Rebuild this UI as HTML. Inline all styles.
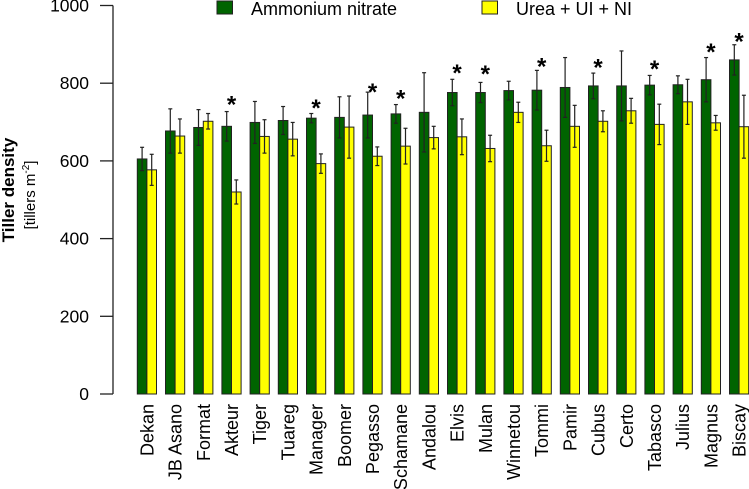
<!DOCTYPE html>
<html><head><meta charset="utf-8"><style>
html,body{margin:0;padding:0;background:#fff;}
svg{display:block;font-family:"Liberation Sans",Arial,sans-serif;}
</style></head><body>
<svg id="chart" width="749" height="489" viewBox="0 0 749 489" xmlns="http://www.w3.org/2000/svg">
<g>
<rect x="217" y="1" width="15.5" height="13" fill="#006400" stroke="#222" stroke-width="1"/>
<text x="251" y="15" font-size="18">Ammonium nitrate</text>
<rect x="482" y="1" width="15.5" height="13" fill="#ffff00" stroke="#222" stroke-width="1"/>
<text x="516" y="15" font-size="18">Urea + UI + NI</text>
</g>
<g>
<text transform="translate(14,190) rotate(-90)" text-anchor="middle" font-size="17" font-weight="bold">Tiller density</text>
<text transform="translate(35,195) rotate(-90)" text-anchor="middle" font-size="15">[tillers m<tspan font-size="10" dy="-6">-2</tspan><tspan dy="6">]</tspan></text>
</g>
<g id="yaxis"></g>
<g id="bars"></g>
<g id="xlabels"></g>
</svg>
<script>
const categories=["Dekan","JB Asano","Format","Akteur","Tiger","Tuareg","Manager","Boomer","Pegasso","Schamane","Andalou","Elvis","Mulan","Winnetou","Tommi","Pamir","Cubus","Certo","Tabasco","Julius","Magnus","Biscay"];
const ammonium=[605,677,686,689,699,704,710,712,718,721,725,776,776,781,782,789,793,793,795,796,809,860];
const ammoniumErr=[30,57,46,38,54,36,12,53,59,24,102,34,26,24,51,77,33,90,25,23,57,39];
const urea=[577,664,702,520,663,656,593,687,612,638,660,662,632,725,639,689,702,729,694,752,698,688];
const ureaErr=[40,44,20,31,43,43,25,80,24,46,29,46,34,26,40,54,27,32,52,58,19,81];
const significant=[0,0,0,1,0,0,1,0,1,1,0,1,1,0,1,0,1,0,1,0,1,1];
const starLevel=[0,0,0,756,0,0,746,0,788,771,0,836,834,0,853,0,851,0,847,0,891,918];
const yTicks=[0,200,400,600,800,1000];

const NS="http://www.w3.org/2000/svg";
const y0=394, yScale=0.3885;
function y(v){return y0-v*yScale;}
const x0=137.3, step=28.2, bw=9.6;
function xg(i){return x0+i*step;}
function mk(tag,attrs,parent){const e=document.createElementNS(NS,tag);for(const k in attrs)e.setAttribute(k,attrs[k]);parent.appendChild(e);return e;}

const ya=document.getElementById('yaxis');
const axisLine=mk('line',{x1:113,x2:113,y1:y(1000),y2:y(0),stroke:'#222','stroke-width':1.3},ya);


yTicks.forEach(t=>{
  const tk=mk('line',{x1:100,x2:113,y1:y(t),y2:y(t),stroke:'#222','stroke-width':1.3},ya);
  
  
  const tl=mk('text',{x:89,y:y(t)+6,'text-anchor':'end','font-size':17.5},ya);
  tl.textContent=t;
  
  
});

const bars=document.getElementById('bars');
function errBar(cx,v,e){
  const g=mk('g',{stroke:'#222','stroke-width':1.2},bars);
  
  
  mk('line',{x1:cx,x2:cx,y1:y(v+e),y2:y(v-e)},g);
  mk('line',{x1:cx-2,x2:cx+2,y1:y(v+e),y2:y(v+e)},g);
  mk('line',{x1:cx-2,x2:cx+2,y1:y(v-e),y2:y(v-e)},g);
}
categories.forEach((c,i)=>{
  const gx=xg(i);
  const b1=mk('rect',{x:gx,y:y(ammonium[i]),width:bw,height:y(0)-y(ammonium[i]),fill:'#006400',stroke:'#222','stroke-width':1},bars);
  
  
  const b2=mk('rect',{x:gx+bw,y:y(urea[i]),width:bw,height:y(0)-y(urea[i]),fill:'#ffff00',stroke:'#222','stroke-width':1},bars);
  
  
  errBar(gx+bw/2,ammonium[i],ammoniumErr[i]);
  errBar(gx+bw*1.5,urea[i],ureaErr[i]);
  if(significant[i]){
    const s=mk('text',{x:gx+bw,y:y(starLevel[i])+12,'text-anchor':'middle','font-size':24,'font-weight':'bold'},bars);
    s.textContent='*';
    
    
  }
  const xl=mk('text',{transform:'translate('+(gx+bw+6.5)+',404) rotate(-90)','text-anchor':'end','font-size':18},document.getElementById('xlabels'));
  xl.textContent=c;
  
  
});
</script>
</body></html>
